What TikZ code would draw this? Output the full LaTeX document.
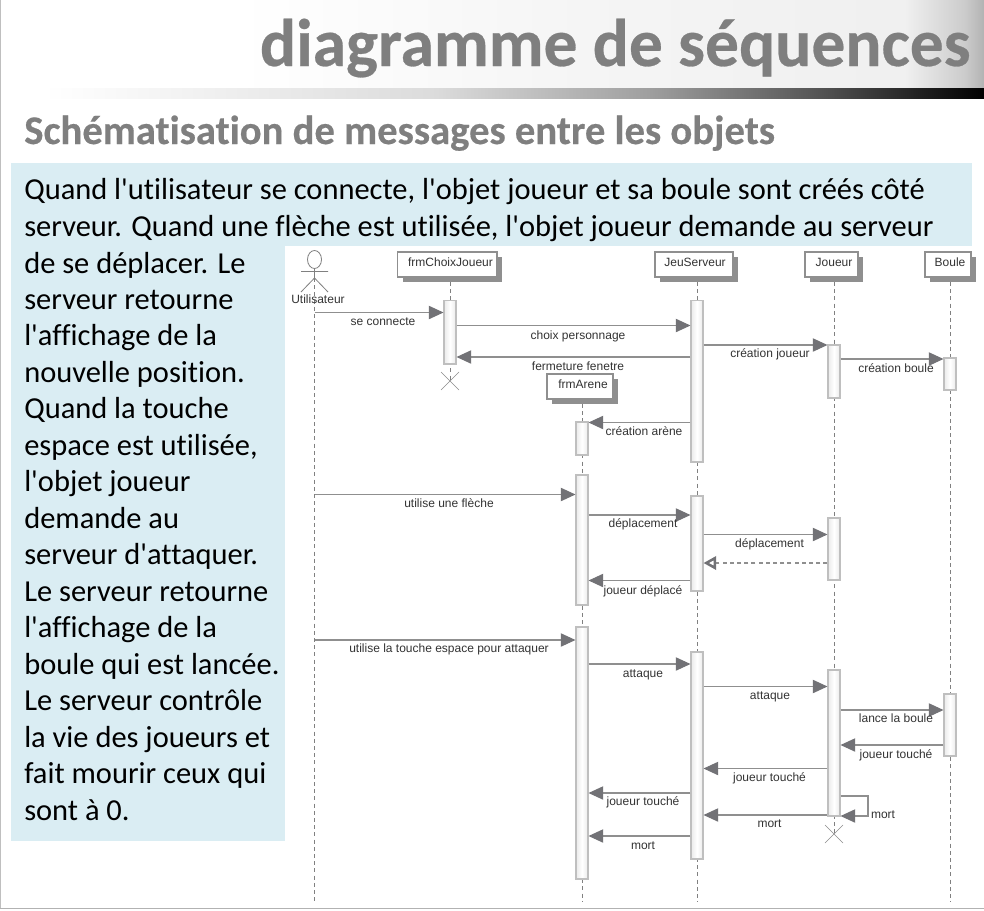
\documentclass[tikz,border=0pt]{standalone}
\usepackage{fontspec}
\setmainfont[Ligatures=NoCommon]{Carlito}
\newfontfamily\plainfont[Ligatures=NoCommon]{Carlito}
\newfontfamily\headfont[Ligatures=NoCommon,BoldFeatures={FakeBold=0.4}]{Carlito}
\newfontfamily\uml{Liberation Sans}
\usetikzlibrary{arrows.meta,shapes.geometric}
\definecolor{panel}{HTML}{DAEDF3}
\definecolor{titlegray}{HTML}{7F7F7F}
\definecolor{line}{HTML}{8F8F8F}
\definecolor{head}{HTML}{727276}
\definecolor{umltext}{HTML}{333333}
\pgfdeclarehorizontalshading{topband}{100bp}{color(0bp)=(white);color(37bp)=(white);color(55bp)=(white!96!black);color(71bp)=(white!94!black);color(74bp)=(white!80!black);color(75bp)=(white!70!black);color(100bp)=(white!70!black)}
\pgfdeclarehorizontalshading{ruleband}{100bp}{color(0bp)=(white);color(27bp)=(white);color(47bp)=(white!86!black);color(58bp)=(white!62!black);color(66bp)=(white!35!black);color(75bp)=(black);color(100bp)=(black)}
\tikzset{
  titletext/.style={font=\headfont\fontsize{50.6}{56}\selectfont\bfseries,text=titlegray,inner sep=0pt,anchor=base east,yshift=-0.75pt},
  subtext/.style={font=\headfont\fontsize{30.5}{34}\selectfont\bfseries,text=titlegray,inner sep=0pt,anchor=base west,yshift=-0.75pt},
  bodytext/.style={font=\plainfont\fontsize{22.85}{27}\selectfont,text=black,inner sep=0pt,anchor=base west,yshift=-0.75pt},
  objbox/.style={draw=line,line width=.8pt,fill=white,inner sep=0pt},
  objshadow/.style={fill=line,draw=none},
  actbox/.style={draw=black!25,line width=.8pt,left color=black!8,right color=black!8,middle color=white,inner sep=0pt,minimum width=9pt},
  lifeline/.style={draw=black!50,line width=.55pt,dash pattern=on 3pt off 2.4pt},
  msg/.style={draw=line,line width=.8pt,-{Triangle[length=11pt,width=10pt,color=head]}},
  retmsg/.style={draw=line,line width=.8pt,dash pattern=on 3pt off 2.4pt,-{Triangle[open,length=9.5pt,width=10pt,color=head,fill=white,line width=1.9pt]}},
  lbl/.style={font=\uml\fontsize{9}{10}\selectfont,text=umltext,inner sep=0pt,text height=6.6pt,text depth=1.9pt,yshift=-0.75pt},
  killx/.style={draw=black!45,line width=.5pt},
}
\newcommand\objnode[8]{% name, x0, y0, x1, y1, text, text x, text y
  \fill[objshadow] (#2+5,#3+5) rectangle (#4+5,#5+5);
  \node[objbox,minimum width={(#4-#2)*0.75pt},minimum height={(#5-#3)*0.75pt}] (#1) at ({(#2+#4)/2},{(#3+#5)/2}) {};
  \node[lbl] (#1t) at (#7,#8) {#6};}
\newcommand\actnode[4]{% name, x, top, bottom
  \node[actbox,minimum height={(#4-#3)*0.75pt}] (#1) at (#2,{(#3+#4)/2}) {};}
\newcommand\lbltext[4]{\node[lbl] (#1) at (#2,#3) {#4};}
\begin{document}
\begin{tikzpicture}[x=0.75pt,y=-0.75pt]
\useasboundingbox (0,0) rectangle (984,910);
\fill[white] (0,0) rectangle (984,910);
\shade[shading=topband] (0,0) rectangle (984,88);
\shade[shading=ruleband] (5,88) rectangle (984,98);
\draw[black!25,line width=.8pt] (0.5,0) -- (0.5,908);
\draw[black!30,line width=1pt] (0,908.5) -- (984,908.5);
\fill[panel] (11,163) rectangle (972,246);
\fill[panel] (11,246) rectangle (285,841);
\node[titletext] (title) at (971,65) {diagramme de séquences};
\node[subtext] (subtitle) at (24,143) {Schématisation de messages entre les objets};
\node[bodytext] (t1) at (24,198) {Quand l'utilisateur se connecte, l'objet joueur et sa boule sont créés côté};
\node[bodytext] (t2) at (24,235) {serveur. Quand une flèche est utilisée, l'objet joueur demande au serveur};
\node[bodytext] (t3) at (24,272) {de se déplacer. Le};
\node[bodytext] (t4) at (24,308) {serveur retourne};
\node[bodytext] (t5) at (24,344.5) {l'affichage de la};
\node[bodytext] (t6) at (24,381) {nouvelle position.};
\node[bodytext] (t7) at (24,417.5) {Quand la touche};
\node[bodytext] (t8) at (24,454) {espace est utilisée,};
\node[bodytext] (t9) at (24,490.5) {l'objet joueur};
\node[bodytext] (t10) at (24,527) {demande au};
\node[bodytext] (t11) at (24,563.5) {serveur d'attaquer.};
\node[bodytext] (t12) at (24,600) {Le serveur retourne};
\node[bodytext] (t13) at (24,636.5) {l'affichage de la};
\node[bodytext] (t14) at (24,673) {boule qui est lancée.};
\node[bodytext] (t15) at (24,709.5) {Le serveur contrôle};
\node[bodytext] (t16) at (24,746) {la vie des joueurs et};
\node[bodytext] (t17) at (24,782.5) {fait mourir ceux qui};
\node[bodytext] (t18) at (24,819) {sont à 0.};
% objects
\objnode{fc}{397.5}{252}{497}{277}{frmChoixJoueur}{450.5}{262.5}
\objnode{fa}{547}{374}{613}{399}{frmArene}{583}{384.5}
\objnode{js}{655}{252}{733}{277}{JeuServeur}{695}{262.5}
\objnode{jo}{805}{252}{858}{277}{Joueur}{834}{262.5}
\objnode{bo}{925}{252}{971}{277}{Boule}{950}{262.5}
% actor
\node[draw=black!50,line width=.6pt,ellipse,minimum width=10.5pt,minimum height=13.5pt,inner sep=0pt,fill=white] (head) at (314.5,259.5) {};
\coordinate (ua) at (301,271.5); \coordinate (ub) at (328,271.5);
\coordinate (uh) at (314.5,278); \coordinate (ul) at (301,292); \coordinate (ur) at (328,292);
\draw[black!50,line width=.6pt] (head.south) -- (uh) (ua) -- (ub) (ul) -- (uh) -- (ur);
\coordinate (uend) at (314.5,902);
\draw[lifeline] (uh) -- (uend);
\node[lbl] (actorlbl) at (318,299) {Utilisateur};
% lifelines
\coordinate (xfc) at (450,381);
\coordinate (xjo) at (834,834);
\coordinate (faend) at (582,902); \coordinate (jsend) at (697.5,902); \coordinate (boend) at (950,902);
\draw[lifeline] (xfc |- 0,282) -- (xfc);
\draw[lifeline] (faend |- 0,404) -- (faend);
\draw[lifeline] (jsend |- 0,282) -- (jsend);
\draw[lifeline] (xjo |- 0,282) -- (xjo);
\draw[lifeline] (boend |- 0,282) -- (boend);
% activations
\actnode{fc1}{450}{300.5}{364}
\actnode{js1}{697}{300.5}{462}
\actnode{js2}{697}{496}{591}
\actnode{js3}{697}{652}{859}
\actnode{jo1}{834}{345}{398}
\actnode{jo2}{834}{518}{580}
\actnode{jo3}{834}{670}{816}
\actnode{bo1}{950}{358}{390}
\actnode{bo2}{950}{694}{756}
\actnode{fa1}{582}{422}{455}
\actnode{fa2}{582}{475}{605}
\actnode{fa3}{582}{627}{879}
% kill marks
\draw[killx] (xfc) ++(-9,-9) -- ++(18,18) (xfc) ++(-9,9) -- ++(18,-18);
\draw[killx] (xjo) ++(-9,-9) -- ++(18,18) (xjo) ++(-9,9) -- ++(18,-18);
% messages
\draw[msg] (uend |- 0,312.5) -- (fc1.west |- 0,312.5);
\draw[msg] (fc1.east |- 0,325.5) -- (js1.west |- 0,325.5);
\draw[msg] (js1.west |- 0,357) -- (fc1.east |- 0,357);
\draw[msg] (js1.east |- 0,345) -- (jo1.west |- 0,345);
\draw[msg] (jo1.east |- 0,359) -- (bo1.west |- 0,359);
\draw[msg] (js1.west |- 0,422.5) -- (fa1.east |- 0,422.5);
\draw[msg] (uend |- 0,494.5) -- (fa2.west |- 0,494.5);
\draw[msg] (fa2.east |- 0,515) -- (js2.west |- 0,515);
\draw[msg] (js2.east |- 0,534.5) -- (jo2.west |- 0,534.5);
\draw[retmsg] (jo2.west |- 0,563) -- (js2.east |- 0,563);
\draw[msg] (js2.west |- 0,580.5) -- (fa2.east |- 0,580.5);
\draw[msg] (uend |- 0,640) -- (fa3.west |- 0,640);
\draw[msg] (fa3.east |- 0,664) -- (js3.west |- 0,664);
\draw[msg] (js3.east |- 0,686.5) -- (jo3.west |- 0,686.5);
\draw[msg] (jo3.east |- 0,710) -- (bo2.west |- 0,710);
\draw[msg] (bo2.west |- 0,745) -- (jo3.east |- 0,745);
\draw[msg] (jo3.west |- 0,768.5) -- (js3.east |- 0,768.5);
\draw[msg] (js3.west |- 0,793) -- (fa3.east |- 0,793);
\draw[msg] (jo3.west |- 0,815) -- (js3.east |- 0,815);
\draw[msg] (jo3.east |- 0,796) -| (868,816) -- (jo3.east |- 0,816);
\draw[msg] (js3.west |- 0,836) -- (fa3.east |- 0,836);
% labels
\lbltext{l1}{383}{321.5}{se connecte}
\lbltext{l2}{578}{335}{choix personnage}
\lbltext{l3}{578}{366}{fermeture fenetre}
\lbltext{l4}{770}{353.5}{création joueur}
\lbltext{l5}{896}{368.5}{création boule}
\lbltext{l6}{644}{431}{création arène}
\lbltext{l7}{449}{503.5}{utilise une flèche}
\lbltext{l8}{643}{523}{déplacement}
\lbltext{l9}{769.5}{543.5}{déplacement}
\lbltext{l10}{643}{590}{joueur déplacé}
\lbltext{l11}{449}{648.5}{utilise la touche espace pour attaquer}
\lbltext{l12}{643}{673.5}{attaque}
\lbltext{l13}{770}{695}{attaque}
\lbltext{l14}{896}{718.5}{lance la boule}
\lbltext{l15}{896}{754}{joueur touché}
\lbltext{l16}{769.5}{777}{joueur touché}
\lbltext{l17}{643}{801.5}{joueur touché}
\lbltext{l18}{769.5}{823.5}{mort}
\lbltext{l19}{883}{814}{mort}
\lbltext{l20}{643}{845}{mort}
\end{tikzpicture}
\end{document}
